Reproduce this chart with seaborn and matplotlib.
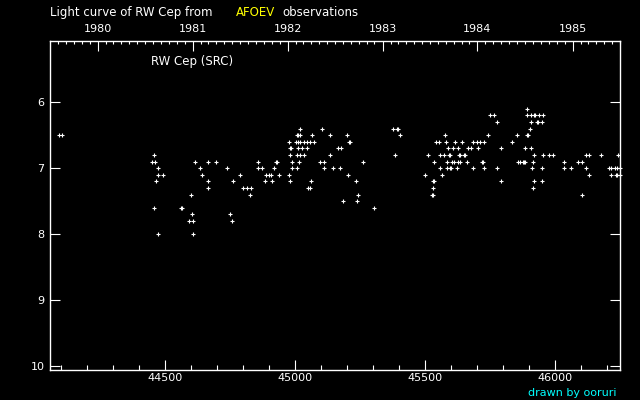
import pandas as pd
import seaborn as sns
import matplotlib.pyplot as plt
from matplotlib.ticker import MultipleLocator, FixedLocator

# AFOEV visual estimates of RW Cep (JD - 2400000, visual mag)
jd = [44092, 44104,
      44458, 44450, 44462, 44473, 44473, 44492, 44465, 44458, 44473,
      44615, 44635, 44642, 44665, 44665, 44665, 44696, 44600, 44560, 44565, 44604, 44592, 44608, 44608,
      44739, 44789, 44762, 44750, 44758, 44800, 44816, 44831, 44825,
      44858, 44858, 44873, 44925, 44930, 44918, 44889, 44900, 44908, 44939, 44885, 44912,
      44977, 44981, 44989, 44989, 45008, 45016,
      44977, 44979, 44983, 44981, 45008, 45019, 45035, 45012, 45027, 45043,
      45004, 45012, 45019, 45035, 45046, 45058, 45070,
      45006, 45010, 45019, 45019, 45066, 45062, 45050, 45058,
      45104, 45135, 45135, 45096, 45112, 45112, 45143, 45173, 45166, 45177, 45200, 45206, 45210, 45204, 45185,
      45374, 45391, 45396, 45404, 45385, 45262, 45235, 45243, 45239, 45304,
      45512, 45500, 45535, 45529, 45533, 45531, 45524, 45528, 45543, 45551, 45558, 45570, 45558, 45566,
      45574, 45581, 45589, 45592, 45596, 45585, 45585, 45596, 45600, 45604, 45612, 45624, 45608, 45627,
      45616, 45620, 45631,
      45643, 45685, 45697, 45712, 45724, 45666, 45677, 45704, 45635, 45648, 45652, 45635, 45662, 45719,
      45723, 45685, 45727, 45774, 45793, 45793, 45743, 45747, 45766, 45774,
      45851, 45835, 45885, 45908, 45893, 45893, 45908, 45918, 45922, 45939, 45951, 45908, 45929, 45933,
      45947, 45904, 45891, 45895, 45920, 45951, 45974, 45993,
      45858, 45866, 45874, 45881, 45885, 45916, 45912, 45947, 45920, 45947, 45916,
      46035, 46035, 46089, 46101, 46062, 46120, 46120, 46128, 46174, 46240, 46128, 46101,
      46205, 46216, 46228, 46239, 46248, 46216, 46232, 46239, 46248]
mag = [6.5, 6.5,
       6.8, 6.9, 6.9, 7.0, 7.1, 7.1, 7.2, 7.6, 8.0,
       6.9, 7.0, 7.1, 6.9, 7.2, 7.3, 6.9, 7.4, 7.6, 7.6, 7.7, 7.8, 7.8, 8.0,
       7.0, 7.1, 7.2, 7.7, 7.8, 7.3, 7.3, 7.3, 7.4,
       6.9, 7.0, 7.0, 6.9, 6.9, 7.0, 7.1, 7.1, 7.1, 7.1, 7.2, 7.2,
       7.1, 7.2, 6.9, 7.0, 7.0, 6.9,
       6.6, 6.7, 6.7, 6.8, 6.8, 6.8, 6.8, 6.7, 6.7, 6.7,
       6.6, 6.6, 6.6, 6.6, 6.6, 6.6, 6.6,
       6.5, 6.5, 6.5, 6.4, 6.5, 7.2, 7.3, 7.3,
       6.4, 6.5, 6.8, 6.9, 6.9, 7.0, 7.0, 7.0, 6.7, 6.7, 6.5, 6.6, 6.6, 7.1, 7.5,
       6.4, 6.4, 6.4, 6.5, 6.8, 6.9, 7.2, 7.4, 7.5, 7.6,
       6.8, 7.1, 6.9, 7.2, 7.2, 7.3, 7.4, 7.4, 6.6, 6.6, 6.8, 6.8, 7.0, 7.1,
       6.5, 6.6, 6.7, 6.8, 6.8, 6.9, 7.0, 7.0, 7.0, 6.9, 6.9, 6.9, 6.7, 6.7,
       6.6, 7.0, 6.8,
       6.6, 6.6, 6.6, 6.6, 6.6, 6.7, 6.7, 6.7, 6.8, 6.8, 6.8, 6.9, 6.9, 6.9,
       6.9, 7.0, 7.0, 7.0, 6.7, 7.2, 6.5, 6.2, 6.2, 6.3,
       6.5, 6.6, 6.7, 6.7, 6.1, 6.2, 6.2, 6.2, 6.2, 6.2, 6.2, 6.3, 6.3, 6.3,
       6.3, 6.4, 6.5, 6.5, 6.8, 6.8, 6.8, 6.8,
       6.9, 6.9, 6.9, 6.9, 6.9, 6.9, 7.0, 7.0, 7.2, 7.2, 7.3,
       6.9, 7.0, 6.9, 6.9, 7.0, 7.0, 6.8, 6.8, 6.8, 6.8, 7.1, 7.4,
       7.0, 7.0, 7.0, 7.0, 7.0, 7.1, 7.1, 7.1, 7.1]

years = [1980, 1981, 1982, 1983, 1984, 1985]
mag_ticks = [6, 7, 8, 9, 10]

df = pd.DataFrame({'JD': jd, 'mag': mag})

sns.set_style("ticks")
plt.rcParams['font.family'] = ['DejaVu Sans']
plt.rcParams['font.size'] = 8

fig = plt.figure(figsize=(6.4, 4), dpi=100, facecolor='black')
ax = fig.add_axes([0.0784, 0.075, 0.8908, 0.823])
ax.set_facecolor('black')

sns.scatterplot(data=df, x='JD', y='mag', marker='+', color='white',
                s=9, linewidth=0.8, ax=ax, clip_on=False)

ax.set_xlim(44057, 46250)
ax.set_ylim(10.06, 5.07)
ax.set_xlabel('')
ax.set_ylabel('')

for sp in ax.spines.values():
    sp.set_color('white')
    sp.set_linewidth(1.0)

ax.xaxis.set_major_locator(MultipleLocator(500))
ax.xaxis.set_minor_locator(MultipleLocator(100))
ax.set_yticks(mag_ticks)
ax.tick_params(axis='both', which='both', direction='in', colors='white',
               labelcolor='white', labelsize=8)
ax.tick_params(axis='x', which='major', length=7.2, width=0.8, pad=2, top=False)
ax.tick_params(axis='x', which='minor', length=3.6, width=0.8, top=False)
ax.tick_params(axis='y', which='major', length=7.2, width=0.8, pad=4, right=True)
ax.tick_params(axis='y', which='minor', left=False, right=False)

# top axis: calendar years (JD - 2400000 of Jan 1)
mjd0 = pd.Timestamp('1858-11-17')
year_jd = [(pd.Timestamp(f'{y}-01-01') - mjd0).days + 0.5 for y in years]
month_jd = [(d - mjd0).days + 0.5 for d in pd.date_range('1979-01-01', '1985-12-01', freq='MS')]

ax2 = ax.twiny()
ax2.set_xlim(ax.get_xlim())
for sp in ax2.spines.values():
    sp.set_visible(False)
ax2.xaxis.set_major_locator(FixedLocator(year_jd))
ax2.xaxis.set_minor_locator(FixedLocator(month_jd))
ax2.set_xticklabels([str(y) for y in years])
ax2.tick_params(axis='x', which='both', direction='in', colors='white',
                labelcolor='white', labelsize=8)
ax2.tick_params(axis='x', which='major', length=7.2, width=0.8, pad=5)
ax2.tick_params(axis='x', which='minor', length=2.4, width=0.8)

# titles
fig.text(50 / 640, 1 - 16 / 400, 'Light curve of RW Cep from', color='white',
         fontsize=8.5, va='baseline', ha='left')
fig.text(236 / 640, 1 - 16 / 400, 'AFOEV', color='#ffff00',
         fontsize=8.5, va='baseline', ha='left')
fig.text(282 / 640, 1 - 16 / 400, 'observations', color='white',
         fontsize=8.5, va='baseline', ha='left')
fig.text(151 / 640, 1 - 61 / 400, 'RW Cep (SRC)', color='white',
         fontsize=8.5, va='center', ha='left')
fig.text(617 / 640, 1 - 393 / 400, 'drawn by ooruri', color='#00ffff',
         fontsize=8, va='center', ha='right')

fig.savefig('out.png', dpi=100, facecolor='black')
